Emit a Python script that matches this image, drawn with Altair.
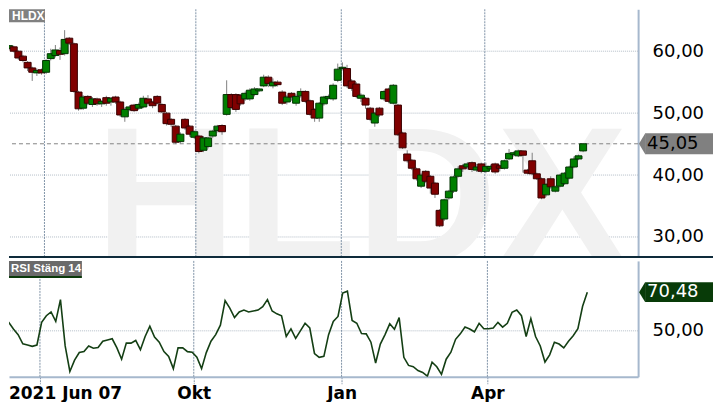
import altair as alt
import pandas as pd

symbol = "HLDX"
indicator_label = "RSI Stäng 14"
first_label = "2021 Jun 07"

# candle data (one candle per step along the time axis)
opens = [60.4, 60.7, 60.0, 59.2, 58.2, 57.3, 56.5, 57.0, 56.6, 58.8,
         59.3, 60.1, 59.6, 62.1, 61.2, 53.4, 50.8, 52.7, 51.4, 52.3,
         51.5, 52.5, 51.8, 52.6, 51.8, 49.4, 50.6, 51.3, 50.8, 51.0,
         52.3, 51.8, 52.7, 51.4, 50.0, 49.0, 47.9, 45.4, 49.0, 47.9,
         46.1, 46.3, 44.0, 44.6, 46.3, 47.2, 48.0, 49.8, 53.0, 53.0,
         52.9, 52.3, 52.3, 53.0, 53.6, 54.4, 55.8, 54.4, 55.0, 53.4,
         51.8, 53.2, 51.6, 52.8, 53.5, 52.0, 50.6, 49.2, 51.5, 52.4,
         52.3, 55.3, 57.2, 57.2, 55.2, 54.7, 52.4, 52.4, 50.8, 48.4,
         50.8, 52.3, 53.9, 51.6, 51.3, 46.8, 43.4, 42.4, 41.0, 38.2,
         40.6, 39.8, 38.7, 34.3, 32.9, 36.3, 37.4, 39.8, 41.5, 41.3,
         42.0, 40.8, 41.8, 40.6, 41.0, 41.8, 41.5, 41.1, 42.6, 43.3,
         43.1, 43.9, 40.8, 42.3, 40.2, 39.4, 36.8, 39.4, 37.4, 38.2,
         38.6, 39.5, 41.3, 42.6, 43.9]
closes = [60.9, 60.0, 58.9, 58.5, 57.3, 56.6, 56.9, 56.5, 58.5, 59.6,
          60.2, 59.5, 61.9, 61.3, 53.5, 50.7, 52.6, 51.6, 52.3, 51.5,
          51.9, 51.6, 52.4, 51.8, 49.7, 50.6, 51.0, 50.4, 51.4, 52.4,
          51.6, 51.2, 51.6, 50.2, 48.3, 48.2, 45.3, 46.6, 47.6, 46.6,
          47.0, 43.8, 46.0, 46.0, 47.1, 47.9, 47.0, 53.0, 50.9, 50.6,
          51.5, 53.2, 53.7, 53.9, 53.9, 55.8, 54.8, 55.0, 54.6, 51.6,
          52.6, 52.6, 52.7, 53.5, 51.9, 49.8, 49.2, 51.6, 52.6, 52.7,
          54.5, 57.1, 57.4, 54.4, 54.0, 52.7, 52.9, 51.3, 49.0, 50.0,
          49.7, 53.5, 51.9, 54.5, 46.5, 44.4, 42.3, 41.1, 39.4, 40.0,
          39.0, 37.9, 36.9, 31.8, 36.0, 37.4, 39.7, 41.0, 41.0, 41.8,
          40.9, 41.3, 40.6, 41.4, 41.4, 40.5, 41.1, 42.3, 43.5, 43.6,
          43.9, 43.2, 40.3, 40.2, 39.4, 36.3, 38.5, 38.1, 38.1, 40.0,
          40.3, 41.3, 42.6, 43.1, 45.05]
highs = [61.0, 60.9, 60.1, 59.4, 58.4, 57.5, 57.2, 57.2, 58.7, 60.4,
         61.0, 60.6, 63.4, 62.3, 61.4, 53.6, 52.9, 52.9, 52.6, 52.5,
         52.1, 52.8, 52.6, 52.8, 52.0, 50.9, 51.3, 51.5, 51.7, 52.8,
         52.9, 52.0, 52.9, 51.6, 50.2, 49.2, 48.1, 46.9, 49.2, 48.1,
         47.2, 46.5, 46.3, 46.2, 47.3, 48.1, 48.2, 55.3, 53.2, 53.2,
         53.1, 53.5, 54.0, 54.2, 54.0, 56.2, 56.1, 55.6, 55.3, 53.7,
         52.9, 53.4, 53.0, 54.0, 53.7, 52.2, 50.8, 51.8, 52.8, 53.0,
         54.8, 58.0, 58.2, 57.8, 55.5, 55.0, 53.2, 52.6, 51.0, 50.2,
         51.0, 53.7, 54.1, 54.7, 51.5, 47.0, 44.0, 42.6, 41.2, 40.3,
         40.8, 40.0, 38.9, 34.5, 36.2, 37.6, 39.9, 41.4, 41.8, 42.1,
         42.2, 41.8, 42.0, 42.0, 41.7, 42.0, 41.7, 42.5, 44.2, 43.8,
         44.1, 44.0, 41.0, 43.6, 40.4, 39.6, 38.7, 39.8, 38.3, 40.2,
         40.5, 41.5, 43.0, 43.3, 45.1]
lows = [60.3, 59.8, 58.6, 58.2, 56.8, 55.2, 56.0, 56.2, 56.3, 58.5,
        59.0, 58.6, 59.3, 61.0, 53.3, 50.4, 50.5, 51.3, 51.0, 51.2,
        51.0, 51.2, 51.2, 51.5, 49.4, 48.6, 50.3, 50.2, 50.5, 50.8,
        51.4, 50.8, 51.4, 50.0, 48.0, 47.8, 45.0, 45.1, 47.3, 46.2,
        45.8, 43.5, 43.7, 44.3, 46.0, 46.9, 46.5, 49.6, 50.6, 50.2,
        51.2, 52.0, 52.0, 52.7, 53.4, 54.2, 54.2, 54.0, 54.3, 51.3,
        51.4, 52.0, 51.2, 52.5, 51.6, 49.6, 48.6, 48.6, 51.2, 52.2,
        52.0, 55.0, 56.9, 54.1, 53.6, 52.4, 51.8, 50.7, 48.7, 47.8,
        49.4, 52.0, 51.6, 51.4, 46.3, 44.2, 42.0, 40.8, 39.1, 37.9,
        38.7, 37.0, 36.3, 31.6, 32.6, 36.0, 37.1, 39.6, 40.5, 40.9,
        40.5, 40.5, 40.3, 40.3, 40.8, 40.2, 40.6, 40.9, 42.4, 43.0,
        42.9, 40.4, 40.1, 40.0, 39.2, 36.1, 36.5, 37.8, 37.2, 38.0,
        38.4, 39.3, 41.1, 42.4, 43.7]
rsi = [56.5, 54.5, 51.0, 48.0, 43.1, 42.5, 41.8, 42.5, 54.5, 58.0,
       60.0, 55.0, 66.5, 42.0, 28.5, 34.5, 38.5, 39.0, 42.0, 40.8,
       41.2, 44.5, 45.2, 45.8, 41.0, 35.0, 43.5, 43.5, 44.9, 40.0,
       47.0, 52.5, 46.7, 44.0, 39.0, 36.5, 30.0, 41.0, 41.0, 39.0,
       38.7, 36.0, 30.0, 38.5, 44.5, 48.0, 53.0, 66.0, 62.0, 57.0,
       60.0, 61.0, 60.0, 60.5, 61.0, 62.8, 66.5, 60.5, 59.0, 58.0,
       47.0, 51.0, 46.0, 50.0, 54.0, 51.5, 38.0, 36.0, 36.5, 48.0,
       55.0, 57.6, 70.0, 71.0, 55.5, 54.0, 48.6, 48.4, 44.0, 33.0,
       43.0, 48.0, 53.7, 50.8, 57.0, 36.0, 31.7, 31.0, 29.0, 28.0,
       26.0, 33.4, 31.0, 27.0, 35.0, 38.7, 45.5, 48.4, 52.0, 51.0,
       49.5, 54.0, 51.1, 51.1, 51.5, 54.5, 52.0, 54.0, 59.8, 61.0,
       58.0, 47.0, 56.5, 47.0, 42.0, 33.5, 37.3, 44.0, 43.0, 41.0,
       44.5, 47.4, 51.1, 63.0, 70.48]

# month gridlines (in candle-index units) and their labels
tick_pos = [7.64, 40.34, 71.76, 102.76]
tick_lab = ["", "Okt", "Jan", "Apr"]
price_ticks = [30, 40, 50, 60]
rsi_ticks = [50]

n = len(closes)
candles = pd.DataFrame({"i": list(range(n)), "open": opens, "high": highs,
                        "low": lows, "close": closes, "rsi": rsi})
candles["dir"] = ["up" if c >= o else "down" for o, c in zip(opens, closes)]

def fmt(v):
    return f"{v:.2f}".replace(".", ",")

last_price = closes[-1]
last_rsi = rsi[-1]

W, H1, H2 = 630, 247, 116
RIGHT = 705
XS = alt.Scale(domain=[1.06, 134.8], nice=False, zero=False)
PS = alt.Scale(domain=[26.94, 66.77], nice=False, zero=False)
RS = alt.Scale(domain=[25.7, 87.0], nice=False, zero=False)

AXFONT = "DejaVu Sans"
GRID_V = "#7f93a7"
GRID_H = "#b3bdc7"
BORDER = "#a6b8cd"
LBL = "replace(format(datum.value, '.2f'), '.', ',')"
xlabel_expr = " : ".join(f"abs(datum.value - {p}) < 0.01 ? '{l}'" for p, l in zip(tick_pos, tick_lab)) + " : ''"

one = pd.DataFrame({"k": [0]})

def yaxis(vals):
    return alt.Axis(orient="right", values=vals, labelExpr=LBL, labelFont=AXFONT,
                    labelFontSize=18, labelColor="#000000", ticks=False, tickSize=0,
                    labelPadding=14, domain=True, domainColor=BORDER, domainWidth=2,
                    grid=False, title=None)

AX_TOP_X = alt.Axis(values=tick_pos, labels=False, ticks=False, domain=False, grid=False, title=None)
AX_TOP_Y = yaxis(price_ticks)
AX_BOT_Y = yaxis(rsi_ticks)
AX_BOT_X = alt.Axis(values=tick_pos, labelExpr=xlabel_expr, grid=False, ticks=True, tickSize=7,
                    tickColor=GRID_V, tickDash=[2, 1], domain=True, domainColor=BORDER, domainWidth=2,
                    labelFont=AXFONT, labelFontWeight="bold", labelFontSize=17, labelColor="#000000",
                    labelPadding=2, labelFlush=False, title=None)

TIP = "M -0.3 0 L 0.3 -1 L 0.3 1 Z"

def badge(df, scale, axis, color, text_color, half):
    box = alt.Chart(df).mark_rect(color=color, yOffset=-half, y2Offset=half).encode(
        x=alt.value(637), x2=alt.value(RIGHT),
        y=alt.Y("p:Q", scale=scale, axis=axis), y2="p:Q")
    tip = alt.Chart(df).mark_point(shape=TIP, size=(2 * half) ** 2, filled=True, color=color, opacity=1).encode(
        x=alt.value(634), y=alt.Y("p:Q", scale=scale, axis=axis))
    txt = alt.Chart(df).mark_text(align="left", baseline="middle", font=AXFONT, fontSize=18, color=text_color).encode(
        x=alt.value(639), y=alt.Y("p:Q", scale=scale, axis=axis), text="t:N")
    return [box, tip, txt]

# ---------------- price panel ----------------
wm = alt.Chart(pd.DataFrame({"t": [symbol]})).mark_text(
    font="Liberation Sans", fontWeight="bold", fontSize=196, color="#f1f1f1",
    align="left", baseline="alphabetic", clip=True
).encode(x=alt.value(86), y=alt.value(254), text="t:N")

hgrid = alt.Chart(pd.DataFrame({"p": price_ticks})).mark_rule(
    color=GRID_H, strokeDash=[1, 1], strokeWidth=1
).encode(y=alt.Y("p:Q", scale=PS, axis=AX_TOP_Y))

vgrid_top = alt.Chart(pd.DataFrame({"t": tick_pos})).mark_rule(
    color=GRID_V, strokeDash=[2, 1], strokeWidth=1
).encode(x=alt.X("t:Q", scale=XS, axis=AX_TOP_X))

lastline = alt.Chart(pd.DataFrame({"p": [last_price]})).mark_rule(
    color="#858585", strokeDash=[4, 3], strokeWidth=1
).encode(y=alt.Y("p:Q", scale=PS, axis=AX_TOP_Y))

wicks = alt.Chart(candles).mark_rule(color="#808080", strokeWidth=1, clip=True).encode(
    x=alt.X("i:Q", scale=XS, axis=AX_TOP_X),
    y=alt.Y("low:Q", scale=PS, axis=AX_TOP_Y),
    y2="high:Q")

bodies = alt.Chart(candles).mark_bar(size=7, strokeWidth=1, clip=True).encode(
    x=alt.X("i:Q", scale=XS, axis=AX_TOP_X),
    y=alt.Y("open:Q", scale=PS, axis=AX_TOP_Y),
    y2="close:Q",
    fill=alt.Fill("dir:N", scale=alt.Scale(domain=["up", "down"], range=["#008000", "#800000"]), legend=None),
    stroke=alt.Stroke("dir:N", scale=alt.Scale(domain=["up", "down"], range=["#003300", "#3a0000"]), legend=None))

sep = alt.Chart(one).mark_rule(color="#0e2b3b", strokeWidth=2).encode(
    x=alt.value(0), x2=alt.value(RIGHT), y=alt.value(248))

pbadge_df = pd.DataFrame({"p": [last_price], "t": [fmt(last_price)]})

sym_df = pd.DataFrame({"t": [symbol]})
sym_box = alt.Chart(sym_df).mark_rect(color="#808080").encode(
    x=alt.value(0), x2=alt.value(36), y=alt.value(0), y2=alt.value(13))
sym_text = alt.Chart(sym_df).mark_text(align="left", baseline="middle", font="Liberation Sans",
                                       fontWeight="bold", fontSize=12, color="#ffffff").encode(
    x=alt.value(3), y=alt.value(7), text="t:N")

top = alt.layer(hgrid, wm, vgrid_top, lastline, wicks, bodies, sep,
                *badge(pbadge_df, PS, AX_TOP_Y, "#808080", "#000000", 10.5),
                sym_box, sym_text).properties(width=W, height=H1)

# ---------------- RSI panel ----------------
rgrid = alt.Chart(pd.DataFrame({"p": rsi_ticks})).mark_rule(
    color=GRID_H, strokeDash=[1, 1], strokeWidth=1
).encode(y=alt.Y("p:Q", scale=RS, axis=AX_BOT_Y))

vgrid_bot = alt.Chart(pd.DataFrame({"t": tick_pos})).mark_rule(
    color=GRID_V, strokeDash=[2, 1], strokeWidth=1
).encode(x=alt.X("t:Q", scale=XS, axis=AX_BOT_X))

rsi_line = alt.Chart(candles).mark_line(color="#143f14", strokeWidth=1.6, clip=True).encode(
    x=alt.X("i:Q", scale=XS, axis=AX_BOT_X), y=alt.Y("rsi:Q", scale=RS, axis=AX_BOT_Y))

rbadge_df = pd.DataFrame({"p": [last_rsi], "t": [fmt(last_rsi)]})

ind_df = pd.DataFrame({"t": [indicator_label]})
ind_box = alt.Chart(ind_df).mark_rect(color="#6a6a6a").encode(
    x=alt.value(0), x2=alt.value(73), y=alt.value(0), y2=alt.value(15))
ind_line = alt.Chart(ind_df).mark_rect(color="#0b3a0b").encode(
    x=alt.value(0), x2=alt.value(73), y=alt.value(15), y2=alt.value(17))
ind_text = alt.Chart(ind_df).mark_text(align="left", baseline="middle", font="Liberation Sans",
                                       fontWeight="bold", fontSize=11.5, color="#ffffff").encode(
    x=alt.value(2), y=alt.value(8), text="t:N")

start_df = pd.DataFrame({"t": [first_label]})
start_text = alt.Chart(start_df).mark_text(align="left", baseline="alphabetic", font=AXFONT,
                                           fontWeight="bold", fontSize=17, color="#000000").encode(
    x=alt.value(0), y=alt.value(H2 + 22), text="t:N")

bottom = alt.layer(rgrid, vgrid_bot, rsi_line,
                   *badge(rbadge_df, RS, AX_BOT_Y, "#083b08", "#ffffff", 10),
                   ind_box, ind_line, ind_text, start_text).properties(width=W, height=H2)

chart = alt.vconcat(top, bottom, spacing=2).properties(
    padding=0, background="white"
).configure_view(stroke=None)

chart.save("out.html", embed_options={"renderer": "svg", "actions": False})
